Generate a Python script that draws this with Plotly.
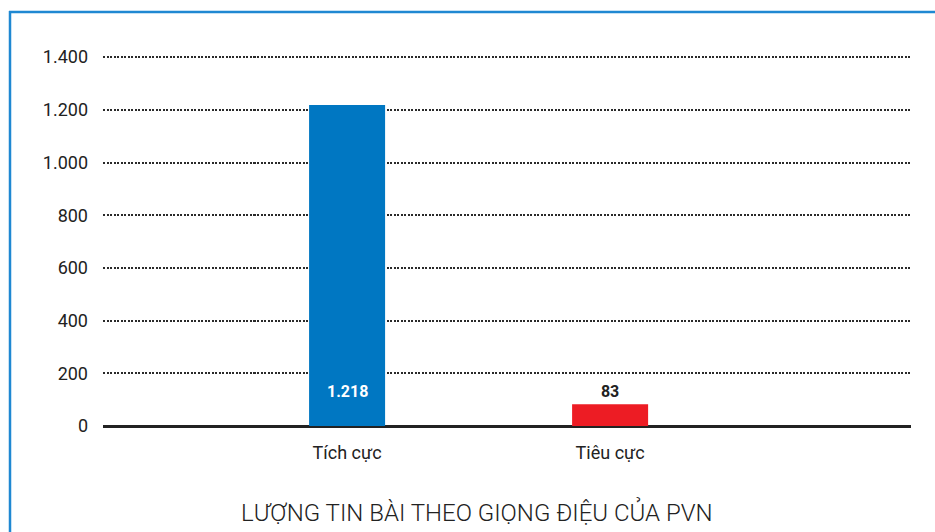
import plotly.graph_objects as go

categories = ["Tích cực", "Tiêu cực"]
values = [1218, 83]
colors = ["#0077c2", "#ed1c24"]
y_ticks = [0, 200, 400, 600, 800, 1000, 1200, 1400]
title_text = "LƯỢNG TIN BÀI THEO GIỌNG ĐIỆU CỦA PVN"

W, H = 935, 532
L, R, T, B = 103, 24, 55, 106
pw, ph = W - L - R, H - T - B
y_max = 1408

def px_to_paper_x(px):
    return (px - L) / pw

def px_to_paper_y(py):
    return (H - B - py) / ph

fig = go.Figure()
fig.add_trace(go.Bar(
    x=[0, 1],
    y=values,
    marker=dict(color=colors, line=dict(width=0)),
    width=0.289,
    texttemplate=["", "%{y:,}"],
    textposition="outside",
    outsidetextfont=dict(color="#222222", size=16, family="Roboto", weight="bold"),
    cliponaxis=False,
    hoverinfo="skip",
))

border_color = "#1f88d2"
fig.update_layout(
    width=W, height=H,
    margin=dict(l=L, r=R, t=T, b=B),
    paper_bgcolor="white", plot_bgcolor="white",
    separators=",.",
    showlegend=False,
    font=dict(family="Roboto", color="#222222"),
    xaxis=dict(
        tickmode="array", tickvals=[0, 1], ticktext=categories,
        range=[-0.928, 2.144], showgrid=False, zeroline=False,
        showline=False, ticks="", tickfont=dict(size=18, color="#222222"),
        ticklabelstandoff=14,
    ),
    yaxis=dict(
        range=[0, y_max], tickmode="array", tickvals=y_ticks,
        tickformat=",d", showgrid=True, gridcolor="#2a2a2a",
        griddash="2px,1.5px", gridwidth=1.5, zeroline=True, zerolinecolor="#222222",
        zerolinewidth=2.5, showline=False, ticks="",
        tickfont=dict(size=18, color="#222222"), ticklabelstandoff=14,
    ),
    annotations=[
        dict(
            text=f"{values[0]:,}".replace(",", "."), xref="x", yref="y",
            x=0, y=0, yshift=35, xanchor="center", yanchor="middle",
            showarrow=False,
            font=dict(size=16, family="Roboto", color="white", weight="bold"),
        ),
        dict(
            text=title_text, xref="paper", yref="paper",
            x=px_to_paper_x(477), y=px_to_paper_y(512),
            xanchor="center", yanchor="middle", showarrow=False,
            font=dict(size=24, family="Roboto", color="#222222", weight=300),
        ),
    ],
    shapes=[
        dict(type="line", xref="paper", yref="paper",
             x0=px_to_paper_x(10), x1=px_to_paper_x(10),
             y0=px_to_paper_y(540), y1=px_to_paper_y(11),
             line=dict(color=border_color, width=2.5), layer="above"),
        dict(type="line", xref="paper", yref="paper",
             x0=px_to_paper_x(9), x1=px_to_paper_x(945),
             y0=px_to_paper_y(12), y1=px_to_paper_y(12),
             line=dict(color=border_color, width=2.5), layer="above"),
    ],
)

fig.write_html("out.html")
